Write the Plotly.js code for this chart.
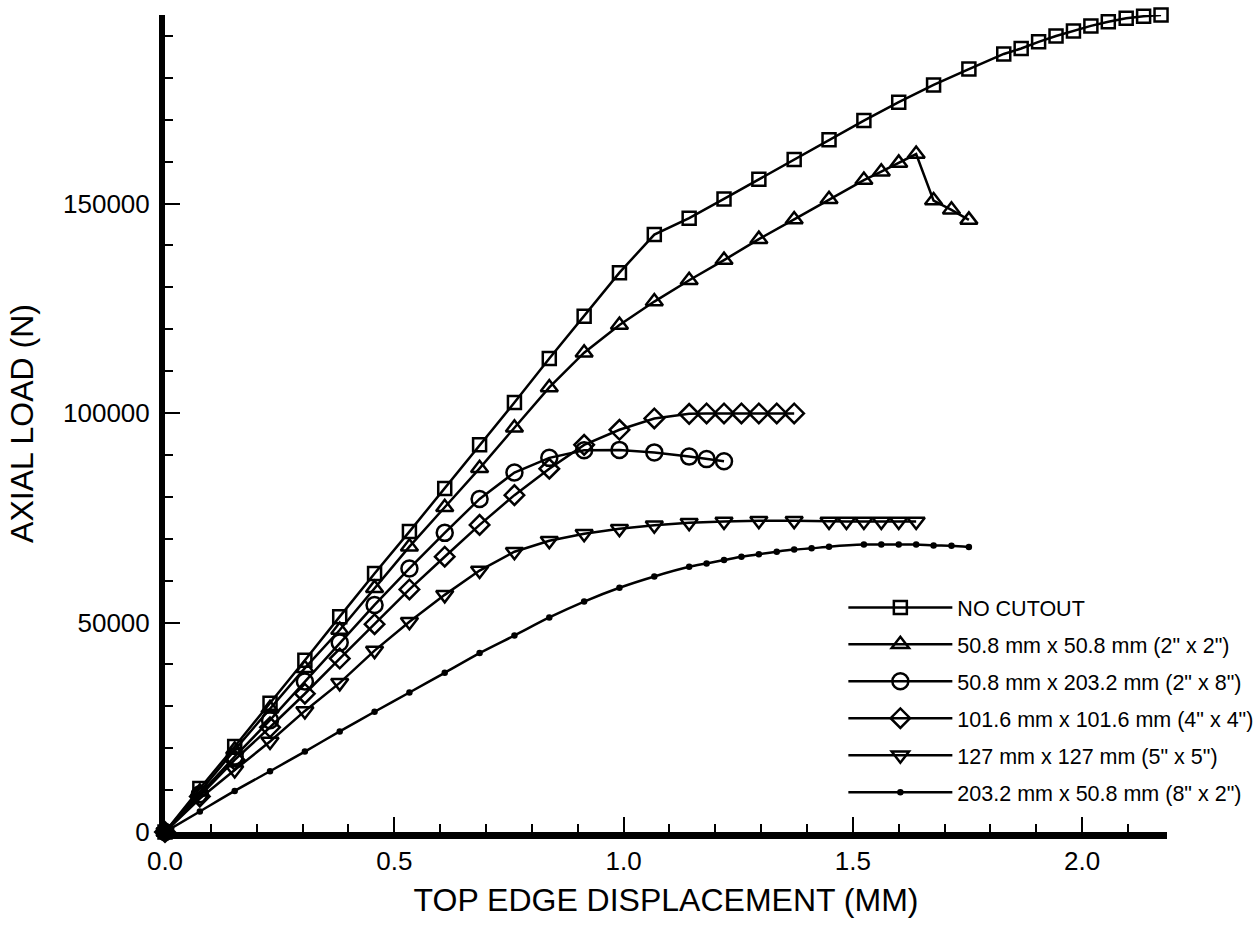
<!DOCTYPE html>
<html>
<head>
<meta charset="utf-8">
<script src="https://cdn.plot.ly/plotly-3.0.1.min.js"></script>
<style>
  html, body { margin: 0; padding: 0; background: #ffffff; }
  #chart { width: 1256px; height: 928px; }
</style>
</head>
<body>
<div id="chart"></div>
<script>
// Top edge displacement (mm) and axial load (N) for each cutout case
const noCutoutX = [0, 0.076, 0.152, 0.229, 0.305, 0.381, 0.457, 0.533, 0.610, 0.686, 0.762, 0.838, 0.914, 0.991, 1.067, 1.143, 1.219, 1.295, 1.372, 1.448, 1.524, 1.600, 1.676, 1.753, 1.829, 1.867, 1.905, 1.943, 1.981, 2.019, 2.057, 2.096, 2.134, 2.172];
const noCutoutY = [0, 10400, 20400, 30700, 41000, 51400, 61700, 71700, 82000, 92400, 102500, 113000, 123100, 133500, 142600, 146500, 151100, 155800, 160500, 165200, 169800, 174200, 178300, 182100, 185700, 187000, 188600, 190000, 191200, 192400, 193400, 194200, 194700, 195000];

const cut2x2X = [0, 0.076, 0.152, 0.229, 0.305, 0.381, 0.457, 0.533, 0.610, 0.686, 0.762, 0.838, 0.914, 0.991, 1.067, 1.143, 1.219, 1.295, 1.372, 1.448, 1.524, 1.562, 1.600, 1.638, 1.676, 1.715, 1.753];
const cut2x2Y = [0, 9600, 19600, 29500, 39100, 48200, 58200, 68100, 77500, 86800, 96500, 106100, 114400, 121000, 126600, 131700, 136500, 141500, 146200, 151000, 155600, 157600, 159700, 161800, 150700, 148500, 146100];

const cut2x8X = [0, 0.076, 0.152, 0.229, 0.305, 0.381, 0.457, 0.533, 0.610, 0.686, 0.762, 0.838, 0.914, 0.991, 1.067, 1.143, 1.181, 1.219];
const cut2x8Y = [0, 9000, 18000, 26700, 35900, 45200, 54200, 62900, 71400, 79500, 85800, 89300, 91100, 91200, 90600, 89600, 89000, 88500];

const cut4x4X = [0, 0.076, 0.152, 0.229, 0.305, 0.381, 0.457, 0.533, 0.610, 0.686, 0.762, 0.838, 0.914, 0.991, 1.067, 1.143, 1.181, 1.219, 1.257, 1.295, 1.334, 1.372];
const cut4x4Y = [0, 8500, 17200, 25000, 33000, 41400, 49600, 57900, 65700, 73300, 80400, 86700, 92400, 96000, 98700, 99800, 99900, 99900, 99900, 99900, 99900, 99900];

const cut5x5X = [0, 0.076, 0.152, 0.229, 0.305, 0.381, 0.457, 0.533, 0.610, 0.686, 0.762, 0.838, 0.914, 0.991, 1.067, 1.143, 1.219, 1.295, 1.372, 1.448, 1.486, 1.524, 1.562, 1.600, 1.638];
const cut5x5Y = [0, 8000, 14800, 21600, 28900, 35600, 43300, 50200, 56600, 62400, 66900, 69500, 71200, 72400, 73200, 73800, 74100, 74300, 74300, 74100, 74100, 74100, 74100, 74100, 74100];

const cut8x2X = [0, 0.076, 0.152, 0.229, 0.305, 0.381, 0.457, 0.533, 0.610, 0.686, 0.762, 0.838, 0.914, 0.991, 1.067, 1.143, 1.181, 1.219, 1.257, 1.295, 1.334, 1.372, 1.410, 1.448, 1.524, 1.562, 1.600, 1.638, 1.676, 1.715, 1.753];
const cut8x2Y = [0, 4900, 9800, 14500, 19200, 24000, 28700, 33300, 38000, 42700, 46900, 51200, 55000, 58300, 61000, 63300, 64100, 64900, 65700, 66300, 66900, 67400, 67700, 68100, 68600, 68600, 68600, 68600, 68400, 68300, 68000];

const seriesNames = [
  'NO CUTOUT',
  '50.8 mm x 50.8 mm (2" x 2")',
  '50.8 mm x 203.2 mm (2" x 8")',
  '101.6 mm x 101.6 mm (4" x 4")',
  '127 mm x 127 mm (5" x 5")',
  '203.2 mm x 50.8 mm (8" x 2")'
];

const xTickVals = [0, 0.5, 1.0, 1.5, 2.0];
const yTickVals = [0, 50000, 100000, 150000];

const FONT = 'Liberation Sans, Arial, Helvetica, sans-serif';
const BLACK = '#000000';

function series(x, y, name, symbol, size, shape) {
  return {
    type: 'scatter', mode: 'lines+markers', name: name, x: x, y: y,
    legendgroup: name,
    cliponaxis: false,
    line: { color: BLACK, width: 2.5, shape: shape || 'linear', smoothing: 0.8 },
    marker: { symbol: symbol, size: size, color: BLACK, line: { color: BLACK, width: 2.5 } }
  };
}

const traces = [
  series(noCutoutX, noCutoutY, seriesNames[0], 'square-open', 13),
  series(cut2x2X, cut2x2Y, seriesNames[1], 'triangle-up-open', 15),
  series(cut2x8X, cut2x8Y, seriesNames[2], 'circle-open', 16),
  series(cut4x4X, cut4x4Y, seriesNames[3], 'diamond-open', 15),
  series(cut5x5X, cut5x5Y, seriesNames[4], 'triangle-down-open', 15),
  series(cut8x2X, cut8x2Y, seriesNames[5], 'circle', 4, 'spline'),
  {
    type: 'scatter', mode: 'markers', showlegend: false, cliponaxis: false,
    x: [cut8x2X[0]], y: [cut8x2Y[0]], hoverinfo: 'skip',
    marker: { symbol: 'circle', size: 15, color: BLACK }
  }
];

const layout = {
  width: 1256, height: 928,
  paper_bgcolor: '#ffffff', plot_bgcolor: '#ffffff',
  margin: { l: 165, r: 89, t: 15, b: 96, autoexpand: false },
  font: { family: FONT, color: BLACK, size: 22 },
  showlegend: true,
  legend: {
    x: 0.677, y: 0.30, xanchor: 'left', yanchor: 'top',
    bgcolor: 'rgba(255,255,255,0)', borderwidth: 0,
    font: { family: FONT, size: 21.5, color: BLACK },
    itemwidth: 104, traceorder: 'grouped', tracegroupgap: 6
  },
  xaxis: {
    range: [0, 2.185], autorange: false,
    showline: true, linewidth: 7, linecolor: BLACK,
    showgrid: false, zeroline: false,
    ticks: 'inside', ticklen: 15, tickwidth: 2, tickcolor: BLACK,
    tickmode: 'array', tickvals: xTickVals, tickformat: '.1f',
    minor: { dtick: 0.1, tick0: 0, ticks: 'inside', ticklen: 8, tickwidth: 2, tickcolor: BLACK, showgrid: false },
    tickfont: { family: FONT, size: 26, color: BLACK },
    title: { text: 'TOP EDGE DISPLACEMENT (MM)', font: { family: FONT, size: 32, color: BLACK }, standoff: 16 },
    automargin: false
  },
  yaxis: {
    range: [0, 195000], autorange: false,
    showline: true, linewidth: 6, linecolor: BLACK,
    showgrid: false, zeroline: false,
    ticks: 'inside', ticklen: 15, tickwidth: 2, tickcolor: BLACK,
    tickmode: 'array', tickvals: yTickVals, tickformat: 'd',
    minor: { dtick: 10000, tick0: 0, ticks: 'inside', ticklen: 8, tickwidth: 2, tickcolor: BLACK, showgrid: false },
    tickfont: { family: FONT, size: 26, color: BLACK },
    ticklabelstandoff: 4,
    title: { text: 'AXIAL LOAD (N)', font: { family: FONT, size: 32, color: BLACK }, standoff: 22 },
    automargin: false
  }
};

Plotly.newPlot('chart', traces, layout, { displayModeBar: false, staticPlot: true });
</script>
</body>
</html>
